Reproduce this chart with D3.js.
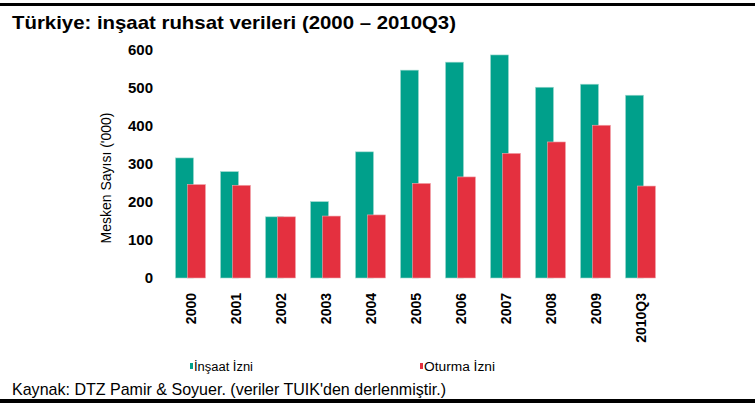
<!DOCTYPE html>
<html>
<head>
<meta charset="utf-8">
<script src="https://cdn.jsdelivr.net/npm/d3@7"></script>
<style>
  body { margin: 0; background: #fff; }
  svg { display: block; font-family: "Liberation Sans", Arial, sans-serif; }
</style>
</head>
<body>
<div id="chart"></div>
<script>
var years = ["2000", "2001", "2002", "2003", "2004", "2005", "2006", "2007", "2008", "2009", "2010Q3"];
var insaatIzni = [316, 280, 161, 201, 332, 547, 568, 587, 502, 510, 481];
var oturmaIzni = [246, 244, 161, 163, 166, 249, 266, 328, 358, 402, 242];
var yTicks = [0, 100, 200, 300, 400, 500, 600];

var svgWidth = 755;
var svgHeight = 403;

var svg = d3.select("#chart")
  .append("svg")
  .attr("width", svgWidth)
  .attr("height", svgHeight);

// frame lines top and bottom
svg.append("rect").attr("x", 0).attr("y", 3).attr("width", svgWidth).attr("height", 3).attr("fill", "#000");
svg.append("rect").attr("x", 0).attr("y", 399).attr("width", svgWidth).attr("height", 4).attr("fill", "#000");

svg.append("text")
  .attr("x", 12)
  .attr("y", 29)
  .attr("textLength", 444)
  .attr("lengthAdjust", "spacingAndGlyphs")
  .style("font-size", "18.5px")
  .style("font-weight", "bold")
  .text("Türkiye: inşaat ruhsat verileri (2000 – 2010Q3)");

var x = d3.scaleBand()
  .domain(years)
  .range([167, 662]);

var y = d3.scaleLinear()
  .domain([0, 600])
  .range([278, 50]);

var barW = 18, redOff = 12;
var groupW = redOff + barW;

// y axis labels only
var leftAxis = d3.axisLeft(y).tickValues(yTicks).tickSize(0).tickPadding(0);
var yAxis = svg.append("g")
  .attr("transform", "translate(153,0)")
  .call(leftAxis);
yAxis.select(".domain").remove();
yAxis.selectAll("text")
  .style("font-family", "'Liberation Sans', Arial, sans-serif")
  .style("font-size", "15px")
  .style("font-weight", "bold")
  .attr("fill", "#000");

svg.append("text")
  .attr("transform", "translate(111,178) rotate(-90)")
  .attr("text-anchor", "middle")
  .style("font-size", "14px")
  .text("Mesken Sayısı ('000)");

// bars
function barX(d, i) {
  return x(years[i]) + (x.bandwidth() - groupW) / 2;
}

svg.append("g").selectAll("rect")
  .data(insaatIzni)
  .enter()
  .append("rect")
  .attr("x", (d, i) => barX(d, i) + 1)
  .attr("y", d => y(d))
  .attr("width", barW)
  .attr("height", d => y(0) - y(d))
  .attr("fill", "#00A08B")
  .attr("stroke", "#9fd9cf")
  .attr("stroke-width", 0.6);

svg.append("g").selectAll("rect")
  .data(oturmaIzni)
  .enter()
  .append("rect")
  .attr("x", (d, i) => barX(d, i) + 1 + redOff)
  .attr("y", d => y(d))
  .attr("width", barW)
  .attr("height", d => y(0) - y(d))
  .attr("fill", "#E4303F")
  .attr("stroke", "#f2a7ad")
  .attr("stroke-width", 0.6);

// x axis labels
var bottomAxis = d3.axisBottom(x).tickSize(0).tickPadding(0);
var xAxis = svg.append("g")
  .attr("transform", "translate(2,293)")
  .call(bottomAxis);
xAxis.select(".domain").remove();
xAxis.selectAll("text")
  .attr("transform", "rotate(-90)")
  .attr("x", 0)
  .attr("y", 0)
  .attr("dy", "0.35em")
  .attr("text-anchor", "end")
  .style("font-family", "'Liberation Sans', Arial, sans-serif")
  .style("font-size", "14px")
  .style("font-weight", "bold")
  .attr("fill", "#000");

// legend
var legend = [
  { name: "İnşaat İzni", color: "#00A08B", x: 190, w: 59 },
  { name: "Oturma İzni", color: "#E4303F", x: 420, w: 71 }
];
var lg = svg.append("g").selectAll("g")
  .data(legend)
  .enter()
  .append("g")
  .attr("transform", d => `translate(${d.x},366)`);
lg.append("rect")
  .attr("x", 0).attr("y", -3)
  .attr("width", 3).attr("height", 6)
  .attr("fill", d => d.color);
lg.append("text")
  .attr("x", 4)
  .attr("y", 4.5)
  .attr("textLength", d => d.w)
  .attr("lengthAdjust", "spacingAndGlyphs")
  .style("font-size", "12px")
  .text(d => d.name);

svg.append("text")
  .attr("x", 12)
  .attr("y", 395)
  .attr("textLength", 434)
  .attr("lengthAdjust", "spacingAndGlyphs")
  .style("font-size", "17px")
  .text("Kaynak: DTZ Pamir & Soyuer. (veriler TUIK'den derlenmiştir.)");
</script>
</body>
</html>
